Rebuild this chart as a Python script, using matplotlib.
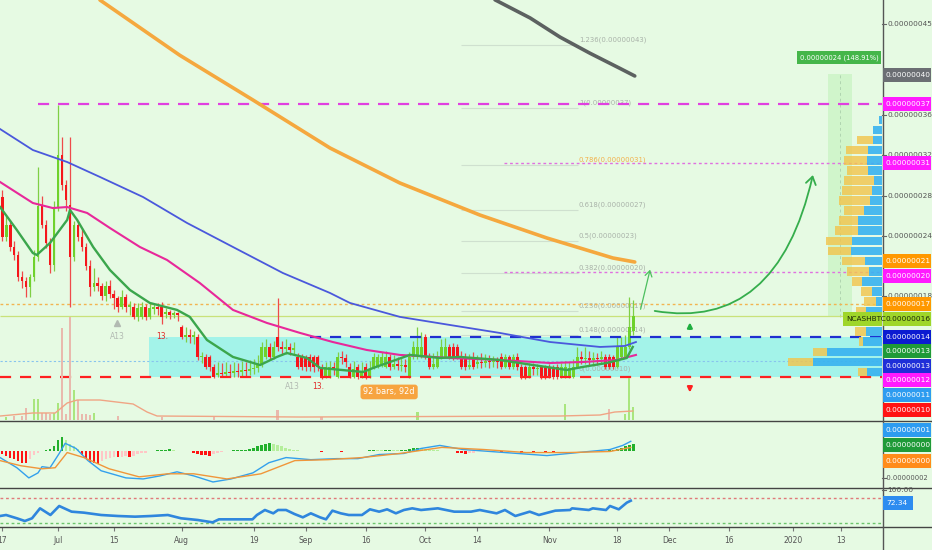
import numpy as np
import matplotlib
matplotlib.use('Agg')
import matplotlib.pyplot as plt
from matplotlib import font_manager
from matplotlib.patches import Rectangle, FancyArrowPatch
from matplotlib.lines import Line2D
from matplotlib.path import Path

# pick a narrow font like the TradingView one if we have it
names = {f.name for f in font_manager.fontManager.ttflist}
if 'Liberation Sans Narrow' in names:
    FONT, FS = 'Liberation Sans Narrow', 1.0
else:
    FONT, FS = 'DejaVu Sans', 0.78
plt.rcParams['font.family'] = FONT

BG = '#e6fae3'
W, H = 932, 550

# ---------------- data (prices in satoshi, x = days since 2019-06-17) ----------------
opens = [27.9, 23.9, 25.1, 22.9, 22.1, 19.9, 19.5, 18.9, 19.9, 21.9,
         27.0, 25.1, 23.3, 21.1, 26.9, 32.0, 29.0, 27.1, 21.9, 25.1,
         23.9, 22.9, 21.0, 18.9, 19.3, 19.0, 18.0, 19.0, 18.2, 17.8,
         17.0, 17.9, 17.0, 17.0, 16.0, 16.0, 17.0, 16.0, 16.8, 16.9,
         17.0, 16.3, 16.5, 16.2, 16.4, 15.0, 14.0, 14.2, 14.0, 14.0,
         12.0, 12.0, 12.0, 11.0, 10.2, 10.4, 10.3, 10.5, 10.4, 10.6,
         10.5, 10.7, 10.6, 10.8, 10.9, 11.2, 12.0, 13.0, 12.0, 14.0,
         13.0, 12.8, 13.0, 12.7, 12.0, 12.0, 12.0, 12.0, 12.0, 12.0,
         11.0, 10.0, 10.0, 11.0, 10.0, 12.0, 11.9, 11.0, 10.0, 11.0,
         10.0, 11.0, 10.0, 11.0, 11.0, 11.2, 11.0, 12.0, 11.0, 11.3,
         11.1, 11.2, 10.0, 12.0, 12.0, 12.0, 14.0, 12.0, 11.0, 11.0,
         12.0, 12.0, 13.0, 13.0, 13.0, 12.0, 12.0, 11.0, 12.0, 11.3,
         11.5, 11.4, 11.6, 11.5, 11.6, 12.0, 11.0, 12.0, 11.0, 12.0,
         11.0, 11.0, 10.0, 11.0, 10.8, 11.0, 11.0, 11.0, 11.0, 11.0,
         10.0, 10.0, 10.0, 10.0, 11.0, 12.0, 11.8, 11.9, 11.7, 11.9,
         11.8, 12.0, 12.0, 12.0, 11.0, 12.0, 12.0, 13.0, 14.6]
closes = [23.9, 25.1, 22.9, 22.1, 19.9, 19.5, 18.9, 19.9, 21.9, 27.0,
          25.1, 23.3, 21.1, 26.9, 32.0, 29.0, 27.6, 21.9, 25.1, 23.9,
          22.9, 21.0, 18.9, 19.3, 19.0, 18.0, 19.0, 18.2, 17.8, 17.0,
          17.9, 17.0, 17.0, 16.0, 16.9, 17.0, 16.0, 16.9, 16.9, 16.8,
          16.0, 16.5, 16.2, 16.4, 16.2, 14.0, 14.2, 14.0, 14.1, 12.0,
          12.1, 11.0, 11.0, 10.0, 10.4, 10.3, 10.5, 10.4, 10.6, 10.5,
          10.7, 10.6, 10.8, 10.9, 11.2, 13.0, 13.0, 12.0, 13.0, 13.0,
          12.8, 13.0, 12.7, 12.9, 11.0, 11.0, 11.0, 11.0, 11.0, 11.0,
          10.0, 11.0, 11.0, 10.8, 12.0, 11.9, 11.5, 10.0, 10.8, 10.0,
          10.6, 10.0, 10.8, 12.0, 12.0, 12.0, 12.0, 11.0, 11.3, 11.1,
          11.2, 11.0, 12.0, 13.0, 13.0, 13.0, 12.0, 11.0, 11.3, 12.0,
          13.0, 13.0, 12.0, 12.0, 12.0, 11.0, 11.0, 11.2, 11.0, 11.5,
          11.4, 11.6, 11.5, 11.6, 11.5, 11.0, 12.0, 11.0, 12.0, 11.0,
          10.0, 10.0, 11.0, 10.8, 10.9, 10.0, 10.0, 10.0, 10.0, 10.0,
          11.0, 11.0, 10.9, 11.0, 12.0, 11.8, 11.9, 11.7, 11.9, 11.8,
          12.0, 11.0, 11.0, 11.0, 13.0, 13.0, 13.0, 15.0, 16.1]
highs = [28.5, 26.0, 25.6, 23.5, 22.5, 20.5, 19.9, 20.2, 22.6, 30.8,
         28.0, 25.6, 23.8, 27.5, 37.0, 33.8, 29.5, 33.8, 25.5, 25.5,
         24.8, 23.3, 21.6, 20.8, 19.9, 19.3, 19.5, 19.6, 18.6, 18.0,
         18.6, 18.2, 17.5, 17.3, 17.3, 17.4, 17.2, 17.3, 17.2, 17.3,
         17.4, 16.9, 16.7, 16.6, 16.5, 15.2, 15.0, 14.8, 14.6, 14.3,
         12.5, 12.3, 12.2, 11.3, 11.5, 11.4, 11.5, 11.3, 11.5, 11.4,
         11.6, 11.5, 11.7, 11.8, 12.2, 13.5, 13.8, 13.4, 13.6, 17.8,
         13.6, 13.8, 13.4, 13.5, 12.4, 12.3, 12.2, 12.3, 12.2, 12.2,
         11.3, 11.5, 11.6, 11.5, 12.5, 12.6, 12.3, 11.4, 11.6, 11.3,
         11.5, 11.4, 11.6, 12.4, 12.3, 12.5, 12.6, 12.3, 12.2, 12.0,
         12.0, 11.8, 12.5, 13.6, 15.0, 14.5, 14.3, 12.4, 12.4, 12.6,
         13.8, 13.9, 13.3, 13.4, 13.3, 12.6, 12.4, 12.3, 12.5, 12.2,
         12.4, 12.3, 12.2, 12.1, 12.0, 12.4, 12.3, 12.2, 12.3, 12.4,
         11.3, 11.2, 11.4, 11.4, 11.3, 11.2, 11.2, 11.3, 11.2, 11.3,
         11.4, 11.6, 11.5, 11.8, 13.0, 12.6, 13.0, 12.6, 12.5, 12.4,
         12.6, 12.3, 12.3, 12.2, 14.0, 14.0, 14.2, 17.9, 17.6]
lows = [23.5, 23.5, 22.5, 21.6, 19.5, 18.8, 17.9, 17.9, 19.5, 21.5,
        24.8, 22.8, 20.3, 20.5, 26.5, 28.5, 26.5, 17.0, 21.5, 23.5,
        22.5, 20.6, 18.0, 18.5, 18.5, 17.6, 17.5, 17.8, 16.8, 16.5,
        16.8, 16.5, 16.2, 15.8, 15.6, 15.8, 15.7, 15.8, 16.3, 16.2,
        15.3, 15.9, 15.8, 15.9, 15.6, 13.8, 13.5, 13.4, 13.3, 11.7,
        11.4, 10.8, 10.6, 9.9, 10.0, 10.0, 10.0, 10.0, 10.0, 10.0,
        10.1, 10.1, 10.2, 10.3, 10.5, 11.0, 11.8, 11.7, 11.8, 12.6,
        12.2, 12.3, 12.2, 12.2, 10.8, 10.7, 10.6, 10.6, 10.5, 10.6,
        9.8, 9.9, 9.9, 10.2, 9.9, 11.3, 11.0, 9.9, 9.9, 9.8,
        9.9, 9.8, 9.9, 10.8, 10.9, 11.0, 10.9, 10.7, 10.8, 10.7,
        10.6, 10.5, 9.9, 11.8, 11.8, 11.9, 11.8, 10.8, 10.8, 10.9,
        11.8, 11.9, 11.8, 11.7, 11.8, 10.8, 10.7, 10.8, 10.8, 10.9,
        10.9, 11.0, 10.9, 11.0, 10.9, 10.8, 10.9, 10.8, 10.8, 10.7,
        9.8, 9.8, 9.9, 10.2, 10.2, 9.8, 9.8, 9.9, 9.8, 9.8,
        9.9, 9.9, 9.9, 9.9, 10.9, 11.3, 11.3, 11.2, 11.3, 11.2,
        11.3, 10.8, 10.8, 10.8, 10.9, 11.8, 11.9, 12.8, 14.2]

vol_idx = [1, 3, 5, 6, 8, 9, 10, 11, 12, 13, 14, 15, 16, 17, 18, 19, 20, 21, 22, 23,
           29, 40, 53, 69, 80, 104, 141, 152, 156, 157, 158]
vol_val = [0.8, 0.9, 1.0, 2.9, 5.0, 5.0, 1.7, 1.7, 1.5, 1.7, 4.0, 22.0, 1.5, 24.5, 7.1,
           4.8, 1.5, 1.4, 1.2, 1.6, 1.0, 0.8, 0.9, 2.4, 0.8, 2.0, 3.8, 2.6, 1.5, 10.0, 3.0]
volma_d = [-0.5, 7.7, 13.3, 16.3, 18.8, 24.5, 32.8, 36.3, 38.8, 74.6, 139.7, 149.7, 153.4, 157.9]
volma_v = [0.95, 1.67, 1.67, 4.05, 4.76, 4.76, 3.81, 1.9, 0.95, 0.71, 0.95, 1.19, 1.9, 2.14]

# moving averages
ma200_d = [123.4, 132.2, 139.7, 147.2, 154.7, 158.4]
ma200_p = [47.4, 45.6, 43.7, 42.1, 40.6, 39.85]
ma_or_d = [24.5, 44.5, 62.8, 82.1, 99.6, 119.6, 136.4, 152.9, 158.4]
ma_or_p = [47.38, 41.9, 37.47, 32.71, 29.24, 26.07, 23.79, 21.81, 21.41]
ma_bl_d = [-0.5, 7.7, 16.3, 24.5, 35.3, 46.3, 57.8, 70.3, 82.1, 87.1, 99.6, 112.1, 124.6,
           137.2, 149.7, 155.9, 158.7]
ma_bl_p = [34.59, 32.51, 31.32, 29.84, 27.85, 25.28, 22.90, 20.32, 18.34, 17.35, 15.97,
           15.17, 14.38, 13.48, 12.99, 13.09, 13.48]
ma_mg_d = [-0.5, 7.7, 12.7, 16.3, 21.3, 27.0, 34.5, 41.3, 49.5, 57.8, 66.3, 74.6, 82.8,
           91.3, 99.6, 112.1, 124.6, 137.2, 145.4, 153.9, 158.7]
ma_mg_p = [29.34, 27.26, 26.76, 26.86, 26.27, 24.78, 22.90, 21.61, 19.33, 16.66, 15.37,
           14.38, 13.48, 12.69, 12.20, 11.90, 11.70, 11.40, 11.50, 11.70, 12.20]
ma_gr_d = [-0.5, 3.7, 7.7, 8.7, 12.0, 16.3, 17.0, 18.8, 22.8, 27.0, 32.0, 37.0, 43.8, 47.0,
           51.3, 57.8, 64.6, 68.8, 71.3, 76.3, 79.6, 90.4, 92.9, 102.1, 109.6, 114.6, 124.6,
           132.9, 141.4, 145.4, 151.4, 156.4, 157.9]
ma_gr_p = [26.86, 24.58, 22.30, 22.11, 23.30, 25.58, 26.57, 25.58, 22.90, 20.62, 18.64,
           17.35, 16.66, 15.97, 13.68, 12.00, 11.20, 12.00, 12.39, 11.90, 10.91, 10.51,
           10.91, 12.20, 11.90, 12.00, 11.70, 11.20, 10.71, 11.01, 11.40, 11.90, 12.99]

fib_levels = [0, 0.148, 0.236, 0.382, 0.5, 0.618, 0.786, 1, 1.236]
fib_prices = [10.28, 14.18, 16.51, 20.36, 23.47, 26.58, 31.01, 36.66, 42.89]

# volume profile rows (price bin centre, up volume, down volume)
vp_price = [35.5, 34.5, 33.5, 32.5, 31.5, 30.5, 29.5, 28.5, 27.5, 26.5, 25.5, 24.5, 23.5,
            22.5, 21.5, 20.5, 19.5, 18.5, 17.5, 16.5, 15.5, 14.5, 13.5, 12.5, 11.5, 10.5]
vp_up = [3, 9, 9, 14, 15, 14, 8, 10, 12, 18, 24, 24, 30, 31, 17, 13, 20, 10, 6, 16, 16, 16,
         19, 55, 69, 15]
vp_down = [0, 0, 16, 22, 23, 21, 30, 30, 31, 20, 19, 23, 26, 23, 23, 22, 10, 11, 12, 10, 10,
           11, 4, 14, 25, 9]

macd_d = [-0.5, 3.7, 6.7, 9.0, 10.0, 12.0, 14.3, 15.8, 18.5, 21.5, 24.8, 31.0, 35.3, 39.5,
          43.8, 48.0, 52.8, 57.3, 62.8, 66.8, 71.1, 77.3, 83.8, 89.1, 94.4, 100.6, 104.9,
          109.6, 115.4, 125.9, 136.4, 146.9, 152.2, 155.4, 157.4]
macd_v = [-0.46, -1.23, -2.0, -1.62, -1.15, -1.23, -0.15, 0.62, 0.23, -0.69, -1.46, -2.0,
          -2.08, -1.85, -1.54, -1.85, -2.31, -2.08, -1.62, -0.85, -0.46, -0.62, -0.54, -0.54,
          -0.23, -0.15, 0.23, 0.46, 0.15, -0.08, -0.31, 0.0, 0.15, 0.46, 0.77]
sig_d = [-0.5, 4.7, 10.0, 13.3, 16.3, 20.5, 26.8, 34.3, 41.5, 48.0, 56.3, 64.8, 73.3, 81.6,
         90.1, 99.6, 110.1, 120.6, 131.2, 141.7, 152.2, 157.4]
sig_v = [-0.69, -1.08, -1.31, -1.23, -0.08, -0.46, -1.31, -1.92, -1.69, -1.69, -2.08, -1.69,
         -0.69, -0.62, -0.46, -0.15, 0.31, 0.15, -0.08, -0.08, 0.0, 0.31]
hist = [-0.2, -0.35, -0.5, -0.6, -0.75, -0.85, -0.9, -0.6, -0.3, -0.1,
        0.05, 0.1, 0.2, 0.4, 0.9, 1.1, 0.9, 0.6, 0.4, 0.2,
        -0.3, -0.6, -0.8, -0.9, -0.95, -0.7, -0.6, -0.5, -0.45, -0.45,
        -0.4, -0.35, -0.4, -0.35, -0.2, -0.15, -0.1, 0, 0.05, 0.1,
        0.12, 0.15, 0.2, 0.1, 0, 0, 0, 0, -0.15, -0.2,
        -0.25, -0.3, -0.35, -0.2, -0.1, -0.05, 0, 0.05, 0.08, 0.1,
        0.12, 0.15, 0.2, 0.3, 0.4, 0.5, 0.6, 0.62, 0.55, 0.5,
        0.4, 0.3, 0.2, 0.15, 0.1, 0.05, 0, 0, 0.03, 0,
        -0.03, 0, 0.02, 0, 0, -0.02, 0, 0, 0.02, 0,
        0, 0.05, 0.1, 0.15, 0.1, 0.08, 0.1, 0.12, 0.1, 0.08,
        0.1, 0.15, 0.2, 0.25, 0.3, 0.25, 0.2, 0.15, 0.12, 0.1,
        0.05, 0, 0, 0, -0.1, -0.15, -0.2, -0.15, -0.1, 0,
        0, 0, 0, 0, 0, -0.05, 0, 0, 0, 0,
        -0.1, 0, 0, -0.1, 0, 0, -0.1, 0, -0.08, 0,
        0, 0.05, 0.05, 0.06, 0.05, 0.05, 0.04, 0.05, 0, 0,
        0, 0, 0.1, 0.15, 0.2, 0.3, 0.4, 0.5, 0.6]

rsi_d = [-0.5, 1.0, 3.7, 5.7, 7.5, 9.5, 12.1, 14.3, 17.4, 20.5, 24.8, 29.0, 33.3, 37.3, 41.5,
         44.8, 49.0, 52.7, 54.3, 58.6, 62.7, 63.8, 65.8, 67.9, 69.1, 71.1, 73.2, 75.3, 77.3,
         79.6, 81.1, 82.7, 84.8, 86.8, 90.1, 92.1, 94.4, 96.4, 98.6, 100.6, 102.7, 104.9,
         109.1, 113.2, 117.4, 119.6, 123.8, 125.9, 128.5, 132.1, 134.4, 138.5, 142.2, 142.7,
         146.9, 147.9, 151.2, 152.2, 154.4, 156.4, 157.4]
rsi_v = [36.8, 39.2, 31.3, 24.8, 31.3, 55.2, 39.2, 60.8, 47.2, 44.8, 39.2, 36.8, 35.2, 36.8,
         39.2, 31.3, 27.2, 21.6, 28.8, 28.8, 28.8, 39.2, 51.2, 43.2, 51.2, 51.2, 41.6, 33.6,
         43.2, 33.6, 28.8, 49.6, 43.2, 39.2, 39.2, 52.8, 47.2, 52.8, 43.2, 51.2, 55.2, 51.2,
         55.2, 47.2, 47.2, 51.2, 43.2, 51.2, 36.8, 47.2, 39.2, 49.6, 51.2, 55.2, 51.2, 55.2,
         51.2, 60.8, 52.8, 68.8, 73.5]

tick_days = [0, 14, 28, 45, 63, 76, 91, 106, 119, 137, 154, 167, 182, 198, 210]
tick_labels = ['17', 'Jul', '15', 'Aug', '19', 'Sep', '16', 'Oct', '14', 'Nov', '18', 'Dec',
               '16', '2020', '13']

price_ticks = [45, 36, 32, 28, 24, 18]
tag_pos = [39.9, 37.07, 31.22, 21.51, 20.0, 17.25, 15.76, 13.97, 12.59, 11.1, 9.72, 8.23, 6.74]
tag_text = ['0.00000040', '0.00000037', '0.00000031', '0.00000021', '0.00000020',
            '0.00000017', '0.00000016', '0.00000014', '0.00000013', '0.00000013',
            '0.00000012', '0.00000011', '0.00000010']
tag_bg = ['#6b6e73', '#ff1aff', '#ff1aff', '#ff9800', '#ff1aff', '#ff9800', '#9fd62a',
          '#0b1bd1', '#1f9a38', '#1f2fd8', '#ff1aff', '#2d9cf0', '#ff1414']
macd_tag_pos = [1.62, 0.46, -0.69]
macd_tag_text = ['0.00000001', '0.00000000', '0.00000000']
macd_tag_bg = ['#2d9cf0', '#1f9a38', '#ff8c1a']

# ---------------- figure ----------------
fig = plt.figure(figsize=(W / 100, H / 100), dpi=100, facecolor=BG)
axw = 882 / W
ax = fig.add_axes([0, 130 / H, axw, 420 / H])
ax_m = fig.add_axes([0, 63 / H, axw, 66 / H])
ax_r = fig.add_axes([0, 23 / H, axw, 40 / H])
XL = (-0.52, 220.3)
for a in (ax, ax_m, ax_r):
    a.set_facecolor(BG)
    a.set_xlim(*XL)
    for s in a.spines.values():
        s.set_visible(False)
    a.set_yticks([])
    a.set_xticks([])
ax.set_ylim(5.75, 47.38)
ax_m.set_ylim(-2.69, 2.31)
ax_r.set_ylim(10.4, 106.4)

# range box and price range tool
ax.add_patch(Rectangle((36.8, 10.0), 190, 4.0, fc='#a3f3e9', ec='none', zorder=0.5))
ax.add_patch(Rectangle((206.7, 16.0), 6.1, 24.0, fc='#d0f5cb', ec='none', zorder=0.6))
ax.vlines(209.7, 16.0, 40.0, color='#b0d4b0', lw=0.7, ls=(0, (3, 3)), zorder=0.7)

# fib retracement
for lvl, p in zip(fib_levels, fib_prices):
    ax.hlines(p, 115, 144.2, color='#cfe0cf', lw=0.8, zorder=0.8)
    col = '#f2b04a' if lvl == 0.786 else '#a9b2a9'
    ax.text(144.4, p + 0.2, f"{lvl:g}({p * 1e-8:.8f})", fontsize=6.3 * FS, color=col,
            ha='left', va='bottom', zorder=1)

# horizontal levels
ax.hlines(37.07, 9, XL[1], color='#e040e0', lw=1.6, ls=(0, (5, 4)), zorder=3.5)
ax.hlines([31.22, 20.4], 125.7, XL[1], color='#e070e0', lw=1.0, ls=(0, (2, 2)), zorder=1)
ax.hlines(17.25, XL[0], XL[1], color='#f2b450', lw=1.0, ls=(0, (2, 2)), zorder=1)
ax.hlines(16.1, XL[0], XL[1], color='#c9e27a', lw=0.9, zorder=1)
ax.hlines(14.0, 77, XL[1], color='#1f2fd0', lw=1.6, ls=(0, (5, 4)), zorder=3.5)
ax.hlines(11.6, XL[0], XL[1], color='#88c4ee', lw=0.8, ls=(0, (2, 2)), zorder=1)
ax.hlines(10.0, XL[0], XL[1], color='#ff2020', lw=1.6, ls=(0, (5, 4)), zorder=3.5)

# volume (overlay axis)
vax = ax.twinx()
vax.set_ylim(0, 100)
vax.axis('off')
o = np.array(opens)
c = np.array(closes)
vcol = ['#a9e67e' if c[i] >= o[i] else '#e9b9ad' for i in vol_idx]
vax.bar(vol_idx, vol_val, width=0.62, color=vcol, lw=0, zorder=1)
vax.plot(volma_d, volma_v, color='#f0a585', lw=1.0, zorder=2)

# moving averages
ax.plot(ma200_d, ma200_p, color='#5c6160', lw=2.6, zorder=4, solid_capstyle='round')
ax.plot(ma_or_d, ma_or_p, color='#f5a83e', lw=2.6, zorder=4, solid_capstyle='round')
ax.plot(ma_bl_d, ma_bl_p, color='#4a58dc', lw=1.3, zorder=4)
ax.plot(ma_mg_d, ma_mg_p, color='#e8289a', lw=1.5, zorder=4)
ax.plot(ma_gr_d, ma_gr_p, color='#3ba64c', lw=1.7, zorder=4)

# candles
x = np.arange(len(closes))
up = c >= o
body_col = np.where(up, '#6fd22c', '#f5161b')
wick_col = np.where(up, '#7fcf45', '#ef4a4a')
ax.vlines(x, lows, highs, colors=wick_col, lw=0.9, zorder=3)
ax.bar(x, np.maximum(np.abs(c - o), 0.14), bottom=np.minimum(o, c), width=0.72,
       color=body_col, lw=0, zorder=3)

# study labels
for d, p in [(28.8, 13.98), (72.6, 9.03)]:
    ax.text(d, p, 'A13', fontsize=7 * FS, color='#b2bab2', ha='center', va='center', zorder=3)
ax.plot(28.8, 15.37, marker='^', ms=4, color='#b2bab2', zorder=3)
for d, p in [(40.0, 13.98), (79.1, 9.03)]:
    ax.text(d, p, '13.', fontsize=7 * FS, color='#e02828', ha='center', va='center', zorder=3)

ax.text(96.9, 8.53, '92 bars, 92d', fontsize=7.5 * FS, color='white', ha='center',
        va='center', zorder=6,
        bbox=dict(boxstyle='round,pad=0.35', fc='#f7a440', ec='none'))
ax.text(219.4, 41.68, '0.00000024 (148.91%)', fontsize=6.2 * FS, color='white',
        ha='right', va='center', zorder=6,
        bbox=dict(boxstyle='square,pad=0.45', fc='#45b64a', ec='none'))

# arrows
curve = Path([(163.4, 16.56), (194, 14.5), (203.0, 30.03)],
             [Path.MOVETO, Path.CURVE3, Path.CURVE3])
ax.add_patch(FancyArrowPatch(path=curve, arrowstyle='->,head_length=0.45,head_width=0.3',
                             mutation_scale=12, color='#35ad4c', lw=1.3, zorder=5))
ax.annotate('', xy=(162.4, 20.92), xytext=(159.7, 16.46),
            arrowprops=dict(arrowstyle='->,head_length=0.4,head_width=0.25',
                            mutation_scale=10, color='#4cbf5e', lw=0.9), zorder=5)
ax.annotate('', xy=(172.2, 15.7), xytext=(172.2, 14.5),
            arrowprops=dict(arrowstyle='-|>', mutation_scale=7, color='#1fae40', lw=1.6))
ax.annotate('', xy=(172.2, 8.2), xytext=(172.2, 9.3),
            arrowprops=dict(arrowstyle='-|>', mutation_scale=7, color='#ff2020', lw=1.6))

# volume profile
vp = fig.add_axes([780 / W, 130 / H, 102 / W, 420 / H], sharey=ax)
vp.set_xlim(102, 0)
vp.axis('off')
vp.barh(vp_price, vp_up, height=0.86, color='#38b2f0', alpha=0.9, lw=0)
vp.barh(vp_price, vp_down, left=vp_up, height=0.86, color='#f2c54e', alpha=0.82, lw=0)

# MACD
hcol = []
for i, v in enumerate(hist):
    prev = hist[i - 1] if i else 0
    if v >= 0:
        hcol.append('#22b02c' if v >= prev else '#b5ef9c')
    else:
        hcol.append('#ff1212' if v <= prev else '#ffc6c6')
ax_m.bar(x, hist, width=0.7, color=hcol, lw=0)
ax_m.plot(macd_d, macd_v, color='#33a0ec', lw=1.0)
ax_m.plot(sig_d, sig_v, color='#f0963a', lw=1.0)

# RSI
ax_r.hlines(80, XL[0], XL[1], color='#e07a7a', lw=1.0, ls=(0, (2, 2)))
ax_r.hlines(20, XL[0], XL[1], color='#6cc46c', lw=1.0, ls=(0, (2, 2)))
ax_r.plot(rsi_d, rsi_v, color='#2f86dd', lw=1.9)

ax_r.set_xticks(tick_days)
ax_r.set_xticklabels(tick_labels, fontsize=7 * FS, color='#555555')
ax_r.tick_params(axis='x', length=3, width=0.8, color='#777777', pad=3.5)

# separators
for ypx in (420.5, 487.5, 527):
    fig.add_artist(Line2D([0, 1], [1 - ypx / H] * 2, transform=fig.transFigure,
                          color='#444444', lw=1.0))
fig.add_artist(Line2D([882.5 / W] * 2, [0, 1], transform=fig.transFigure,
                      color='#555555', lw=1.0))


# price scale
def ypix(a, v):
    return a.transData.transform((0, v))[1]


def tag(a, v, text, bg, fg='white', x0=883, w=48, h=14):
    yp = ypix(a, v)
    fig.add_artist(Rectangle((x0 / W, (yp - h / 2) / H), w / W, h / H,
                             transform=fig.transFigure, fc=bg, ec='none', zorder=5))
    fig.text((x0 + 3) / W, yp / H, text, color=fg, fontsize=6.8 * FS, ha='left',
             va='center', zorder=6)


def plain(a, v, text, fs=6.8, x0=887):
    yp = ypix(a, v)
    fig.add_artist(Line2D([882 / W, 886 / W], [yp / H] * 2, transform=fig.transFigure,
                          color='#666666', lw=0.8))
    fig.text(x0 / W, yp / H, text, color='#555555', fontsize=fs * FS, ha='left',
             va='center', zorder=4)


for v in price_ticks:
    plain(ax, v, f"{v * 1e-8:.8f}")
plain(ax_m, -2.0, '-0.00000002', fs=6.2, x0=885)
plain(ax_r, 100, '100.00')
for v, t, bg in zip(tag_pos, tag_text, tag_bg):
    tag(ax, v, t, bg, fg='#1d2a0a' if bg == '#9fd62a' else 'white')
tag(ax, 15.76, 'NCASHBTC', '#9fd62a', fg='#1d2a0a', x0=843, w=39)
for v, t, bg in zip(macd_tag_pos, macd_tag_text, macd_tag_bg):
    tag(ax_m, v, t, bg)
tag(ax_r, 68.0, '72.34', '#2d8cf0', w=30)

fig.savefig('out.png', dpi=100, facecolor=BG)
